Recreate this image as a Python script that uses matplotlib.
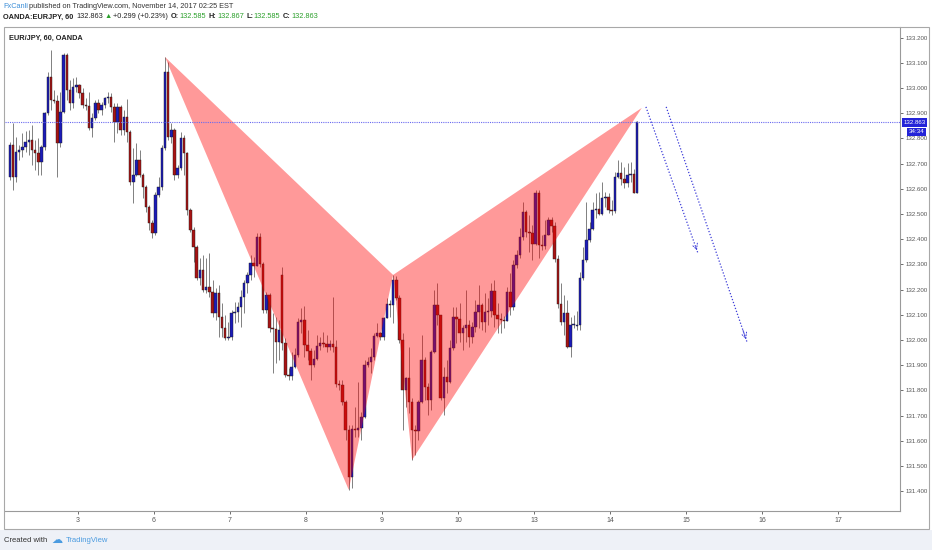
import numpy as np
from matplotlib import pyplot as plt
from matplotlib.patches import Rectangle, Polygon
from matplotlib.transforms import blended_transform_factory

plt.rcParams['font.family'] = ['Liberation Sans', 'DejaVu Sans']

# EUR/JPY 60 min candles (OANDA)
opens = [132.647, 132.774, 132.647, 132.746, 132.754, 132.766, 132.786, 132.794, 132.754, 132.742,
         132.706, 132.766, 132.901, 133.044, 132.952, 132.948, 132.782, 132.905, 133.131, 132.992,
         132.940, 133.004, 133.012, 132.980, 132.933, 132.929, 132.841, 132.881, 132.940, 132.913,
         132.933, 132.960, 132.964, 132.925, 132.865, 132.925, 132.833, 132.885, 132.825, 132.627,
         132.655, 132.714, 132.655, 132.607, 132.528, 132.464, 132.425, 132.575, 132.607, 132.762,
         133.063, 132.806, 132.833, 132.655, 132.683, 132.802, 132.742, 132.516, 132.437, 132.369,
         132.246, 132.278, 132.198, 132.210, 132.190, 132.107, 132.187, 132.091, 132.048, 132.008,
         132.012, 132.107, 132.111, 132.131, 132.171, 132.226, 132.258, 132.306, 132.294, 132.409,
         132.302, 132.119, 132.179, 132.048, 132.044, 131.992, 132.258, 131.988, 131.861, 131.857,
         131.893, 131.940, 132.071, 132.079, 131.980, 131.956, 131.901, 131.925, 131.976, 131.988,
         131.984, 131.972, 131.984, 131.972, 131.825, 131.821, 131.754, 131.643, 131.456, 131.647,
         131.643, 131.651, 131.694, 131.901, 131.913, 131.933, 132.016, 132.028, 132.012, 132.087,
         132.143, 132.139, 132.238, 132.167, 132.000, 131.802, 131.849, 131.754, 131.643, 131.639,
         131.754, 131.921, 131.813, 131.762, 131.952, 132.139, 132.099, 131.770, 131.853, 131.833,
         131.968, 132.091, 132.083, 132.028, 132.048, 132.060, 132.012, 132.052, 132.111, 132.139,
         132.071, 132.111, 132.115, 132.194, 132.099, 132.083, 132.079, 132.075, 132.190, 132.131,
         132.298, 132.337, 132.409, 132.508, 132.429, 132.425, 132.381, 132.583, 132.377, 132.373,
         132.417, 132.476, 132.452, 132.321, 132.143, 132.071, 132.107, 131.972, 132.060, 132.056,
         132.060, 132.246, 132.317, 132.397, 132.440, 132.516, 132.520, 132.500, 132.563, 132.567,
         132.516, 132.512, 132.647, 132.663, 132.639, 132.623, 132.655, 132.659, 132.585]
highs = [132.786, 132.861, 132.806, 132.774, 132.821, 132.829, 132.833, 132.853, 132.794, 132.802,
         132.774, 132.905, 133.063, 133.151, 132.992, 132.972, 132.984, 133.139, 133.139, 133.032,
         133.040, 133.044, 133.016, 133.000, 132.960, 132.984, 132.901, 132.952, 132.956, 132.944,
         132.964, 132.984, 132.980, 132.940, 132.940, 132.933, 132.913, 132.956, 132.833, 132.762,
         132.782, 132.754, 132.663, 132.615, 132.536, 132.476, 132.587, 132.647, 132.774, 133.123,
         133.103, 132.861, 132.841, 132.694, 132.825, 132.813, 132.746, 132.524, 132.448, 132.377,
         132.325, 132.337, 132.325, 132.345, 132.238, 132.206, 132.218, 132.147, 132.099, 132.071,
         132.119, 132.151, 132.151, 132.198, 132.238, 132.270, 132.337, 132.329, 132.425, 132.425,
         132.310, 132.190, 132.187, 132.107, 132.091, 132.079, 132.290, 132.008, 131.889, 131.952,
         131.968, 132.087, 132.127, 132.135, 132.040, 131.968, 131.960, 132.020, 132.012, 132.032,
         132.020, 132.000, 132.171, 132.000, 131.841, 131.841, 131.762, 131.663, 131.663, 131.734,
         131.833, 131.714, 131.921, 131.933, 131.968, 132.028, 132.067, 132.032, 132.091, 132.167,
         132.159, 132.258, 132.254, 132.179, 132.028, 131.853, 131.972, 131.770, 131.663, 131.762,
         132.020, 131.933, 131.829, 131.960, 132.198, 132.226, 132.099, 131.893, 131.921, 132.000,
         132.131, 132.131, 132.147, 132.060, 132.198, 132.079, 132.071, 132.159, 132.218, 132.147,
         132.187, 132.167, 132.226, 132.238, 132.147, 132.107, 132.095, 132.210, 132.266, 132.317,
         132.357, 132.444, 132.548, 132.516, 132.496, 132.456, 132.595, 132.595, 132.417, 132.476,
         132.488, 132.488, 132.468, 132.337, 132.226, 132.179, 132.159, 132.091, 132.099, 132.115,
         132.270, 132.369, 132.548, 132.468, 132.548, 132.583, 132.587, 132.627, 132.587, 132.583,
         132.556, 132.667, 132.714, 132.706, 132.687, 132.702, 132.706, 132.679, 132.867]
lows = [132.635, 132.595, 132.627, 132.714, 132.726, 132.746, 132.734, 132.694, 132.675, 132.655,
        132.655, 132.754, 132.893, 132.913, 132.940, 132.647, 132.766, 132.901, 132.952, 132.913,
        132.921, 132.984, 132.960, 132.921, 132.913, 132.833, 132.806, 132.873, 132.901, 132.893,
        132.921, 132.940, 132.905, 132.786, 132.821, 132.813, 132.813, 132.786, 132.615, 132.544,
        132.651, 132.647, 132.563, 132.508, 132.437, 132.405, 132.417, 132.567, 132.595, 132.754,
        132.794, 132.782, 132.635, 132.643, 132.675, 132.655, 132.496, 132.429, 132.310, 132.238,
        132.218, 132.190, 132.187, 132.171, 132.091, 132.079, 132.012, 132.012, 132.000, 132.000,
        132.000, 132.067, 132.071, 132.052, 132.107, 132.187, 132.238, 132.250, 132.294, 132.290,
        132.107, 132.107, 132.032, 131.869, 131.909, 131.921, 131.960, 131.853, 131.841, 131.841,
        131.889, 131.933, 132.028, 131.933, 131.921, 131.841, 131.893, 131.921, 131.960, 131.972,
        131.952, 131.960, 131.952, 131.813, 131.802, 131.742, 131.603, 131.405, 131.413, 131.615,
        131.615, 131.603, 131.690, 131.893, 131.869, 131.921, 132.012, 132.000, 132.000, 132.087,
        132.091, 132.067, 132.159, 131.988, 131.643, 131.734, 131.710, 131.524, 131.544, 131.603,
        131.750, 131.762, 131.702, 131.722, 131.948, 132.060, 131.762, 131.702, 131.790, 131.829,
        131.960, 131.988, 131.992, 131.960, 131.992, 131.972, 131.988, 132.032, 132.048, 132.040,
        132.032, 132.060, 132.091, 132.052, 132.028, 132.028, 132.048, 132.075, 132.099, 132.119,
        132.286, 132.325, 132.397, 132.409, 132.349, 132.317, 132.377, 132.325, 132.357, 132.361,
        132.417, 132.429, 132.310, 132.127, 132.060, 132.020, 131.968, 131.933, 132.048, 132.040,
        132.040, 132.238, 132.310, 132.389, 132.437, 132.484, 132.496, 132.496, 132.528, 132.504,
        132.496, 132.504, 132.643, 132.615, 132.603, 132.607, 132.627, 132.583, 132.585]
closes = [132.774, 132.647, 132.746, 132.754, 132.766, 132.786, 132.794, 132.754, 132.742, 132.706,
          132.766, 132.901, 133.044, 132.952, 132.948, 132.782, 132.905, 133.131, 132.992, 132.940,
          133.004, 133.012, 132.980, 132.933, 132.929, 132.841, 132.881, 132.940, 132.913, 132.933,
          132.960, 132.964, 132.925, 132.865, 132.925, 132.833, 132.885, 132.825, 132.627, 132.655,
          132.714, 132.655, 132.607, 132.528, 132.464, 132.425, 132.575, 132.607, 132.762, 133.063,
          132.806, 132.833, 132.655, 132.683, 132.802, 132.742, 132.516, 132.437, 132.369, 132.246,
          132.278, 132.198, 132.210, 132.190, 132.107, 132.187, 132.091, 132.048, 132.008, 132.012,
          132.107, 132.111, 132.131, 132.171, 132.226, 132.258, 132.306, 132.294, 132.409, 132.302,
          132.119, 132.179, 132.048, 132.044, 131.992, 132.040, 131.988, 131.861, 131.857, 131.893,
          131.940, 132.071, 132.079, 131.980, 131.956, 131.901, 131.925, 131.976, 131.988, 131.984,
          131.972, 131.984, 131.972, 131.825, 131.821, 131.754, 131.643, 131.456, 131.647, 131.643,
          131.651, 131.694, 131.901, 131.913, 131.933, 132.016, 132.028, 132.012, 132.087, 132.143,
          132.139, 132.238, 132.167, 132.000, 131.802, 131.849, 131.754, 131.643, 131.639, 131.754,
          131.921, 131.813, 131.762, 131.952, 132.139, 132.099, 131.770, 131.853, 131.833, 131.968,
          132.091, 132.083, 132.028, 132.048, 132.060, 132.012, 132.052, 132.111, 132.139, 132.071,
          132.111, 132.115, 132.194, 132.099, 132.083, 132.079, 132.075, 132.190, 132.131, 132.298,
          132.337, 132.409, 132.508, 132.429, 132.425, 132.381, 132.583, 132.377, 132.373, 132.417,
          132.476, 132.452, 132.321, 132.143, 132.071, 132.107, 131.972, 132.060, 132.064, 132.060,
          132.246, 132.317, 132.397, 132.440, 132.516, 132.520, 132.500, 132.563, 132.567, 132.516,
          132.512, 132.647, 132.663, 132.639, 132.623, 132.655, 132.659, 132.585, 132.863]

day_labels = ['3', '6', '7', '8', '9', '10', '13', '14', '15', '16', '17']
price_ticks = [131.4, 131.5, 131.6, 131.7, 131.8, 131.9, 132.0, 132.1, 132.2, 132.3,
               132.4, 132.5, 132.6, 132.7, 132.8, 132.9, 133.0, 133.1, 133.2]
last_price = 132.863

# XABCD pattern (bar index, price)
pattern_bars = [49, 107, 121, 127, 199.5]
pattern_prices = [133.123, 131.405, 132.258, 131.524, 132.921]

# projection arrows (start bar, start price, end bar, end price)
proj_lines = [(200.8, 132.925, 217.2, 132.345),
              (207.2, 132.925, 232.7, 131.992)]

W, H = 932, 550
def fx(x):
    return x / W
def fy(y):
    return 1 - y / H

fig = plt.figure(figsize=(W / 100, H / 100), dpi=100)
fig.patch.set_facecolor('white')

# footer background
fig.patches.append(Rectangle((0, 0), 1, fy(530), transform=fig.transFigure,
                             facecolor='#eef1f7', edgecolor='none', zorder=0))

ax = fig.add_axes([fx(5), fy(511), fx(900) - fx(5), fy(27) - fy(511)])
ax.set_facecolor('white')

n = len(closes)
idx = np.arange(n)
o = np.array(opens)
c = np.array(closes)
hi = np.array(highs)
lo = np.array(lows)
up = c >= o
up_col = '#1c1cb8'
dn_col = '#a81414'
cols = np.where(up, up_col, dn_col)

ax.vlines(idx, lo, hi, color='#808080', linewidth=0.7, zorder=2)
body = np.maximum(np.abs(c - o), 0.003)
ax.bar(idx, body, bottom=np.minimum(o, c), width=0.78, color=cols,
       edgecolor='#1a1a1a', linewidth=0.3, zorder=3)

# harmonic pattern triangles
tri1 = list(zip(pattern_bars[0:3], pattern_prices[0:3]))
tri2 = list(zip(pattern_bars[2:5], pattern_prices[2:5]))
for tri in (tri1, tri2):
    ax.add_patch(Polygon(tri, closed=True, facecolor='#ff0000', alpha=0.4,
                         edgecolor='none', zorder=4))

# projections
for x0, y0, x1, y1 in proj_lines:
    ax.plot([x0, x1], [y0, y1], linestyle=(0, (1, 1.5)), color='#3b3bd8', linewidth=0.9, zorder=5)
    ax.annotate('', xy=(x1, y1), xytext=(x1 - (x1 - x0) * 0.06, y1 - (y1 - y0) * 0.06),
                arrowprops=dict(arrowstyle='->', color='#3b3bd8', lw=0.7, linestyle=':'), zorder=5)

# last price line
ax.axhline(last_price, color='#6a6af0', linestyle=(0, (1, 1)), linewidth=0.8, zorder=5)

ax.set_xlim(-1.5, 281)
ax.set_ylim(131.321, 133.242)

ax.yaxis.tick_right()
ax.set_yticks(price_ticks)
ax.set_yticklabels([f'{p:.3f}' for p in price_ticks])
ax.set_xticks([21.5 + 24 * k for k in range(len(day_labels))])
ax.set_xticklabels(day_labels)
ax.tick_params(axis='y', length=2.5, width=0.6, pad=1.5, labelsize=4.4, colors='#555555')
ax.tick_params(axis='x', length=2.5, width=0.6, pad=2, labelsize=5, colors='#555555')
for side in ('top', 'left'):
    ax.spines[side].set_visible(False)
for side in ('right', 'bottom'):
    ax.spines[side].set_color('#9a9a9a')
    ax.spines[side].set_linewidth(0.8)

# price label boxes on the axis
trans = blended_transform_factory(ax.transAxes, ax.transData)
ax.text(1.004, last_price, '132.863', transform=trans, fontsize=4.4, color='white',
        va='center', ha='left', zorder=6,
        bbox=dict(boxstyle='square,pad=0.25', facecolor='#2424d8', edgecolor='none'))
ax.text(1.0095, last_price - 0.036, '34:34', transform=trans, fontsize=4.4, color='white',
        va='center', ha='left', zorder=6,
        bbox=dict(boxstyle='square,pad=0.25', facecolor='#2424d8', edgecolor='none'))

# outer chart frame
fig.patches.append(Rectangle((fx(4), fy(529)), fx(929) - fx(4), fy(27) - fy(529),
                             transform=fig.transFigure, fill=False, edgecolor='#a8a8a8',
                             linewidth=0.8, zorder=1))

ax.text(0.004, 0.984, 'EUR/JPY, 60, OANDA', transform=ax.transAxes, fontsize=5.3,
        fontweight='bold', color='#222222', va='top', ha='left')

# header, pieces laid out one after another
renderer = fig.canvas.get_renderer()
def text_row(y, pieces, x=3, fs=5.3):
    for s, col, wt, gap in pieces:
        t = fig.text(fx(x), fy(y), s, fontsize=fs, color=col, fontweight=wt, va='center')
        x = t.get_window_extent(renderer).x1 + gap

text_row(7, [('FxCanli', '#3d8fd8', 'normal', 1.5),
             ('published on TradingView.com, November 14, 2017 02:25 EST', '#333333', 'normal', 0)])
green = '#2ca02c'
text_row(17, [('OANDA:EURJPY, 60', '#222222', 'bold', 3),
              ('132.863', '#222222', 'normal', 1.5),
              ('\u25b2', green, 'normal', 1.5),
              ('+0.299 (+0.23%)', '#222222', 'normal', 3),
              ('O:', '#222222', 'bold', 0.5),
              ('132.585', green, 'normal', 2.5),
              ('H:', '#222222', 'bold', 0.5),
              ('132.867', green, 'normal', 2.5),
              ('L:', '#222222', 'bold', 0.5),
              ('132.585', green, 'normal', 2.5),
              ('C:', '#222222', 'bold', 0.5),
              ('132.863', green, 'normal', 0)])

# footer
fig.text(fx(4), fy(540), 'Created with', fontsize=5.5, color='#333333', va='center')
fig.text(fx(51), fy(540), '\u2601', fontsize=8, color='#4a9be0', va='center',
         family='DejaVu Sans')
fig.text(fx(66), fy(540), 'TradingView', fontsize=5.5, color='#4a9be0', va='center')

fig.savefig('out.png', dpi=100)
